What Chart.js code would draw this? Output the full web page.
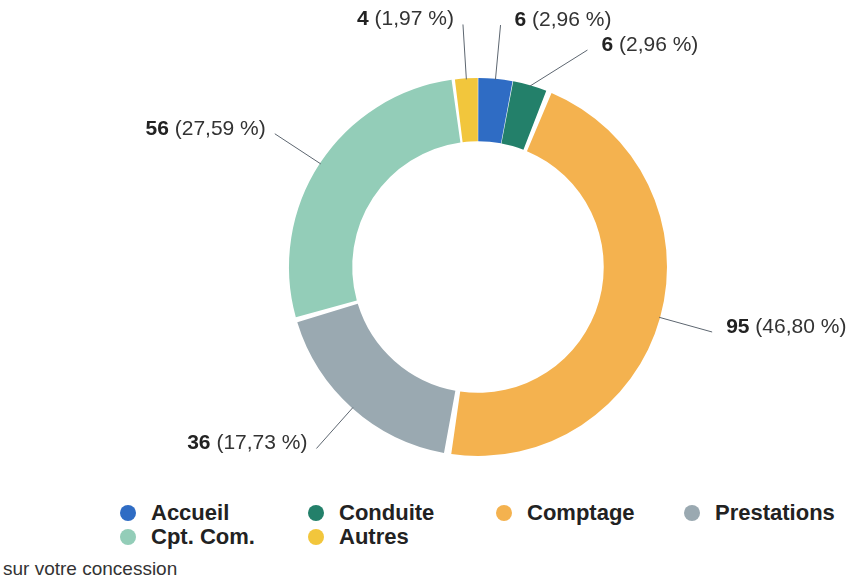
<!DOCTYPE html>
<html lang="fr">
<head>
<meta charset="utf-8">
<script src="https://cdn.jsdelivr.net/npm/chart.js@4"></script>
<style>
    body { margin: 0; background: #fff; font-family: "Liberation Sans", Arial, sans-serif; }
    #zone { position: relative; width: 853px; height: 580px; overflow: hidden; }
    #grafico { position: absolute; left: 0; top: 0; }
    #legende { position: absolute; left: 120px; top: 501px; display: grid; grid-template-columns: 188px 188px 188px 188px; }
    .item { display: flex; align-items: center; height: 24px; font-weight: bold; font-size: 22px; color: #222; }
    .item span.pt { width: 16px; height: 16px; border-radius: 50%; margin-right: 15px; flex: none; }
    #pied { position: absolute; left: 3px; top: 558px; font-size: 19px; color: #333; }
</style>
</head>
<body>
<div id="zone">
    <canvas id="grafico" width="853" height="495"></canvas>
    <div id="legende"></div>
    <div id="pied">sur votre concession</div>
</div>
<script>
const categorias = ['Accueil', 'Conduite', 'Comptage', 'Prestations', 'Cpt. Com.', 'Autres'];
const valores = [6, 6, 95, 36, 56, 4];
const cores = ['#2f6cc4', '#23806a', '#f4b24f', '#9aa9b1', '#93cdb8', '#f2c63c'];

const total = valores.reduce((s, v) => s + v, 0);

function formatarPct(v) {
    return (v / total * 100).toFixed(2).replace('.', ',') + ' %';
}

// etiquettes avec traits de rappel
const etiquettes = {
    id: 'etiquettes',
    afterDraw(chart) {
        const ctx = chart.ctx;
        const meta = chart.getDatasetMeta(0);
        const R = 243;
        const itens = [];
        meta.data.forEach((arc, i) => {
            const mid = (arc.startAngle + arc.endAngle) / 2;
            const cx = arc.x, cy = arc.y;
            itens.push({
                i, cx, cy,
                x0: cx + Math.cos(mid) * (arc.outerRadius + 2),
                y0: cy + Math.sin(mid) * (arc.outerRadius + 2),
                y1: cy + Math.sin(mid) * R,
                direita: Math.cos(mid) >= 0
            });
        });
        // eviter les chevauchements de chaque cote
        [true, false].forEach(lado => {
            const grupo = itens.filter(t => t.direita === lado).sort((a, b) => a.y1 - b.y1);
            for (let k = 1; k < grupo.length; k++) {
                if (grupo[k].y1 < grupo[k - 1].y1 + 25) grupo[k].y1 = grupo[k - 1].y1 + 25;
            }
        });
        itens.forEach(t => {
            const dy = t.y1 - t.cy;
            const dx = Math.sqrt(Math.max(R * R - dy * dy, 0));
            t.x1 = t.cx + (t.direita ? dx : -dx);

            ctx.save();
            ctx.strokeStyle = '#5d6670';
            ctx.lineWidth = 1;
            ctx.beginPath();
            ctx.moveTo(t.x0, t.y0);
            ctx.lineTo(t.x1, t.y1);
            ctx.stroke();

            const num = String(valores[t.i]);
            const resto = ' (' + formatarPct(valores[t.i]) + ')';
            ctx.textBaseline = 'middle';
            ctx.font = 'bold 21px "Liberation Sans", Arial, sans-serif';
            const wNum = ctx.measureText(num).width;
            ctx.font = '21px "Liberation Sans", Arial, sans-serif';
            const wResto = ctx.measureText(resto).width;
            const ty = t.y1 - 5;
            let tx = t.direita ? t.x1 + 14 : t.x1 - 9 - wNum - wResto;
            ctx.textAlign = 'left';
            ctx.fillStyle = '#222';
            ctx.font = 'bold 21px "Liberation Sans", Arial, sans-serif';
            ctx.fillText(num, tx, ty);
            ctx.fillStyle = '#333';
            ctx.font = '21px "Liberation Sans", Arial, sans-serif';
            ctx.fillText(resto, tx + wNum, ty);
            ctx.restore();
        });
    }
};

const ctx = document.getElementById('grafico').getContext('2d');
const grafico = new Chart(ctx, {
    type: 'doughnut',
    data: {
        labels: categorias,
        datasets: [{
            data: valores,
            backgroundColor: cores,
            borderWidth: 0,
            spacing: 6
        }]
    },
    options: {
        responsive: false,
        animation: false,
        cutout: '66%',
        layout: { padding: { top: 78, bottom: 495 - 456, left: 289, right: 853 - 667 } },
        plugins: {
            legend: { display: false },
            tooltip: { enabled: false }
        }
    },
    plugins: [etiquettes]
});

// legende HTML
const legende = document.getElementById('legende');
categorias.forEach((nome, i) => {
    legende.innerHTML += `<div class="item"><span class="pt" style="background:${cores[i]}"></span>${nome}</div>`;
});
</script>
</body>
</html>
